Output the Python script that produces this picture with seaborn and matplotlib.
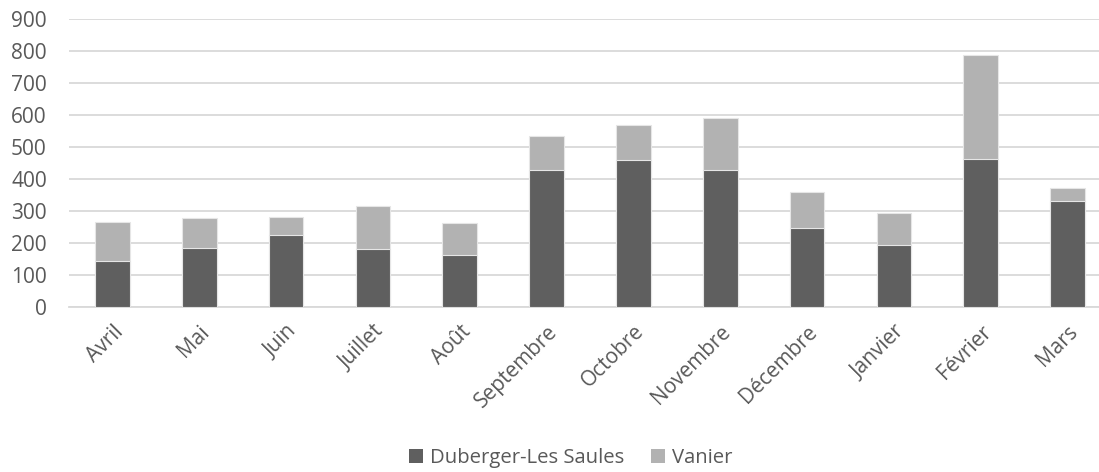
import matplotlib
matplotlib.use("Agg")
import matplotlib.pyplot as plt
import seaborn as sns
import pandas as pd
from matplotlib.patches import Patch

months = ["Avril", "Mai", "Juin", "Juillet", "Août", "Septembre", "Octobre",
          "Novembre", "Décembre", "Janvier", "Février", "Mars"]
duberger = [146, 184, 225, 181, 165, 430, 461, 430, 249, 194, 463, 332]
vanier = [122, 96, 58, 137, 100, 106, 110, 163, 112, 101, 326, 40]
yticks = [0, 100, 200, 300, 400, 500, 600, 700, 800, 900]

dark = "#5F5F5F"
light = "#B2B2B2"
txt = "#595959"
grid = "#D9D9D9"

sns.set_theme(style="white")
plt.rcParams["font.family"] = ["Open Sans", "DejaVu Sans"]

df = pd.DataFrame({"mois": months, "dub": duberger, "van": vanier})
df["total"] = df["dub"] + df["van"]

fig = plt.figure(figsize=(10.99, 4.72), dpi=100)
ax = fig.add_axes([69 / 1099, 1 - 307.3 / 472, (1111 - 69) / 1099, 288 / 472])

sns.barplot(data=df, x="mois", y="total", color=light, width=0.40,
            edgecolor="#E6E6E6", linewidth=0.8, saturation=1, ax=ax, zorder=2)
sns.barplot(data=df, x="mois", y="dub", color=dark, width=0.40,
            edgecolor="#E6E6E6", linewidth=0.8, saturation=1, ax=ax, zorder=3)

ax.set_xlim(-0.5, 11.5)
ax.set_ylim(0, 900)
ax.set_yticks(yticks)
ax.set_yticklabels([str(v) for v in yticks])
ax.yaxis.grid(True, color=grid, linewidth=1.3)
ax.set_axisbelow(True)
for s in ["top", "right", "left"]:
    ax.spines[s].set_visible(False)
ax.spines["bottom"].set_color(grid)
ax.spines["bottom"].set_linewidth(1.3)
ax.set_xlabel("")
ax.set_ylabel("")
ax.tick_params(axis="y", length=0, pad=16, labelsize=15, labelcolor=txt)
ax.tick_params(axis="x", length=0, pad=10, labelsize=15, labelcolor=txt)
for lab in ax.get_xticklabels():
    lab.set_rotation(45)
    lab.set_ha("right")
    lab.set_rotation_mode("anchor")

handles = [Patch(facecolor=dark, edgecolor="none", label="Duberger-Les Saules"),
           Patch(facecolor=light, edgecolor="none", label="Vanier")]
fig.legend(handles=handles, loc="center", bbox_to_anchor=(571 / 1099, 1 - 458 / 472),
           ncol=2, frameon=False, fontsize=14.6, labelcolor=txt,
           handlelength=0.7, handleheight=0.7, handletextpad=0.35, columnspacing=1.3)

fig.savefig("out.png", dpi=100)
